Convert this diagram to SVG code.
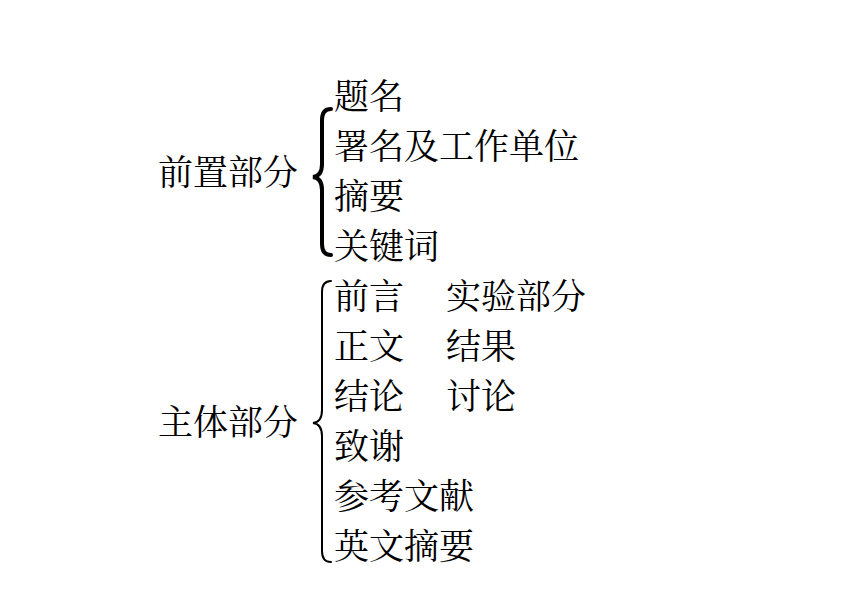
<svg xmlns="http://www.w3.org/2000/svg" width="868" height="604" viewBox="0 0 868 604">
<style>
text{font-family:"Noto Serif CJK SC","Noto Sans CJK SC",serif;font-size:35px;fill:#000}
.b{fill:none;stroke:#000;stroke-linecap:round}
</style>
<rect width="868" height="604" fill="#fff"/>
<g id="connectors">
<path class="b" stroke-width="4" d="M331,109 Q322,109 322,120 L322,164 Q322,176 313,177 Q322,178 322,190 L322,244 Q322,255 331,255"/>
<path class="b" stroke-width="2" d="M331,281 Q322,281 322,292 L322,410 Q322,422 313,423 Q322,424 322,436 L322,551 Q322,562 331,562"/>
</g>
<g id="front"><text x="158" y="185">前置部分</text></g>
<g id="front-items">
<text x="334" y="109">题名</text>
<text x="334" y="159">署名及工作单位</text>
<text x="334" y="209">摘要</text>
<text x="334" y="259">关键词</text>
</g>
<g id="body"><text x="158" y="435">主体部分</text></g>
<g id="body-items">
<text x="334" y="309">前言</text><text x="446" y="309">实验部分</text>
<text x="334" y="359">正文</text><text x="446" y="359">结果</text>
<text x="334" y="409">结论</text><text x="446" y="409">讨论</text>
<text x="334" y="459">致谢</text>
<text x="334" y="509">参考文献</text>
<text x="334" y="559">英文摘要</text>
</g>
</svg>
